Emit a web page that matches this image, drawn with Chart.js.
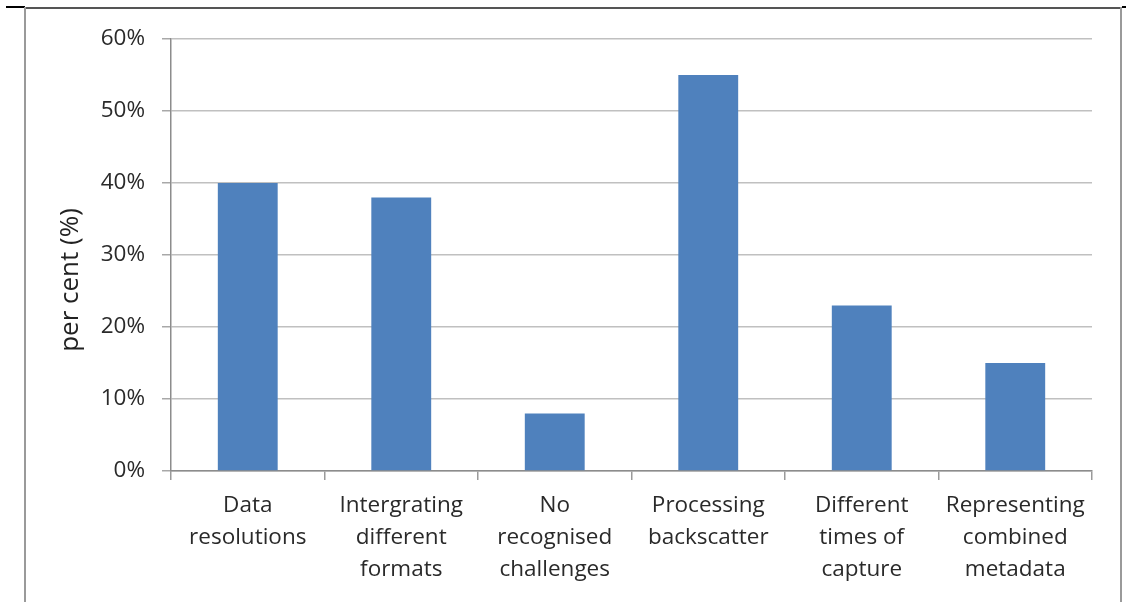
<!DOCTYPE html>
<html>
<head>
<meta charset="utf-8">
<script src="https://cdn.jsdelivr.net/npm/chart.js@4"></script>
<style>
  html, body { margin: 0; padding: 0; background: #fff; width: 1127px; height: 602px; overflow: hidden; }
  #wrap { position: relative; width: 1127px; height: 602px; }
  canvas { position: absolute; left: 0; top: 0; }
  .ln { position: absolute; }
</style>
</head>
<body>
<div id="wrap">
  <canvas id="c" width="1127" height="602"></canvas>
  <div class="ln" style="left:6px;top:6px;width:19px;height:2px;background:#000;"></div>
  <div class="ln" style="left:24px;top:7px;width:1098px;height:2px;background:#555;"></div>
  <div class="ln" style="left:24px;top:7px;width:2px;height:595px;background:#9a9a9a;"></div>
  <div class="ln" style="left:1120px;top:7px;width:2px;height:595px;background:#9a9a9a;"></div>
  <div class="ln" style="left:1122px;top:6px;width:4px;height:2px;background:#000;"></div>
</div>
<script>
const categories = [
  ["Data", "resolutions"],
  ["Intergrating", "different", "formats"],
  ["No", "recognised", "challenges"],
  ["Processing", "backscatter"],
  ["Different", "times of", "capture"],
  ["Representing", "combined", "metadata"]
];
const values = [40, 38, 8, 55, 23, 15];
const yTickValues = [0, 10, 20, 30, 40, 50, 60];
const yTitle = "per cent (%)";

const FONT = "'Open Sans', 'Liberation Sans', sans-serif";
const TEXT = "#2a2a2a";

// Y-axis title drawn as real canvas text, slightly below the axis centre as in the reference
const yTitlePlugin = {
  id: 'yTitlePlugin',
  afterDraw(chart) {
    const ctx = chart.ctx;
    ctx.save();
    ctx.translate(71, 280);
    ctx.rotate(-Math.PI / 2);
    ctx.font = "26px " + FONT;
    ctx.fillStyle = '#222';
    ctx.textAlign = 'center';
    ctx.textBaseline = 'middle';
    ctx.fillText(yTitle, 0, 0);
    ctx.restore();
  }
};

new Chart(document.getElementById('c'), {
  type: 'bar',
  data: {
    labels: categories,
    datasets: [{
      data: values,
      backgroundColor: '#4f81bd',
      borderWidth: 0,
      categoryPercentage: 1.0,
      barPercentage: 0.39
    }]
  },
  plugins: [yTitlePlugin],
  options: {
    responsive: false,
    devicePixelRatio: 1,
    animation: false,
    layout: { padding: { left: 26, top: 39, right: 35, bottom: 0 } },
    plugins: { legend: { display: false }, tooltip: { enabled: false } },
    scales: {
      x: {
        grid: { offset: true, drawOnChartArea: false, tickLength: 9, color: '#9a9a9a', lineWidth: 1.5 },
        border: { color: '#8c8c8c', width: 1.5 },
        ticks: { font: { family: FONT, size: 22.5, lineHeight: 1.42 }, color: TEXT, padding: 10, maxRotation: 0, autoSkip: false },
        afterFit: s => { s.height = 131; }
      },
      y: {
        min: 0, max: 60,
        afterBuildTicks: s => { s.ticks = yTickValues.map(v => ({ value: v })); },
        grid: { color: '#c0c0c0', lineWidth: 1.5, tickLength: 9, tickColor: '#a8a8a8' },
        border: { color: '#8c8c8c', width: 1.5 },
        ticks: { font: { family: FONT, size: 22.5 }, color: TEXT, padding: 17, callback: v => v + '%' },
        title: { display: false, text: yTitle },
        afterFit: s => { s.width = 145; }
      }
    }
  }
});
</script>
</body>
</html>
